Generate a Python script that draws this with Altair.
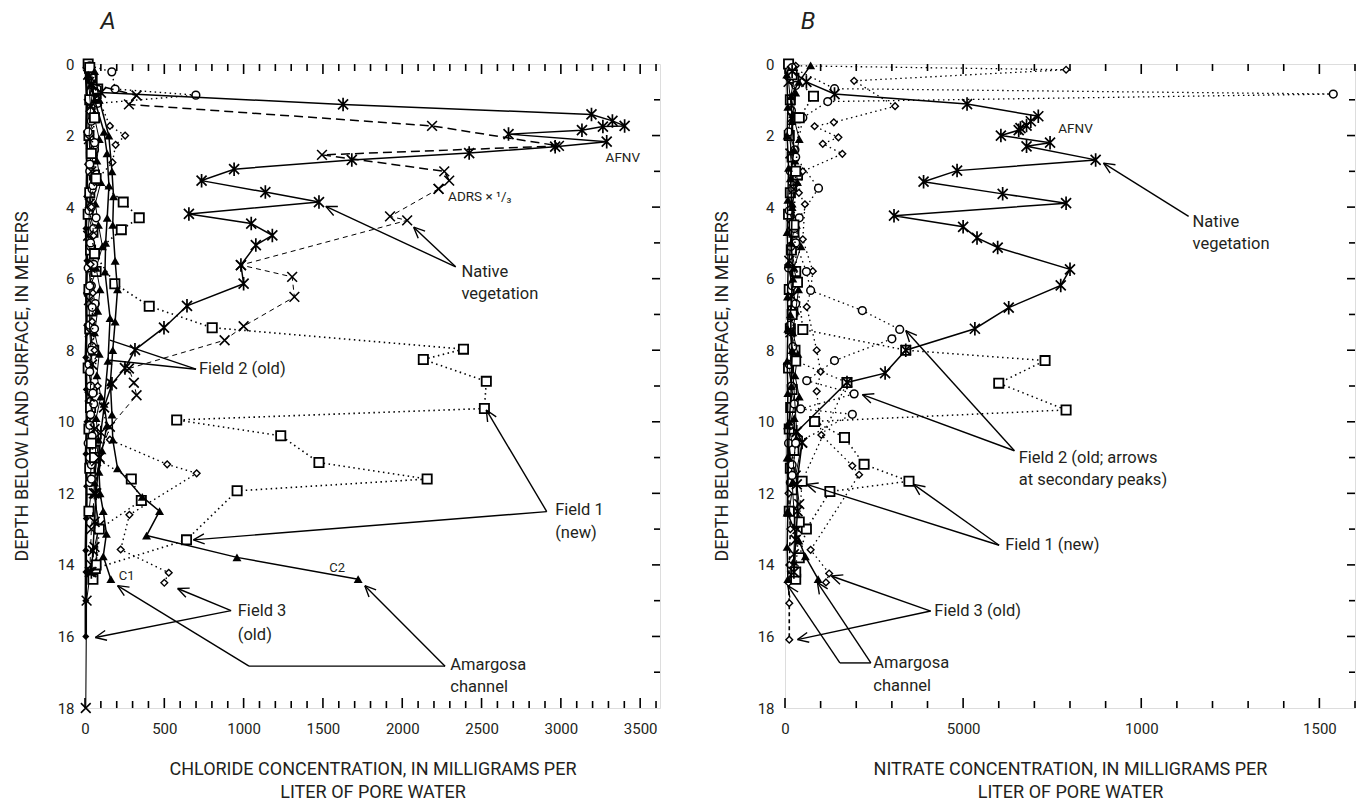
import math
import altair as alt
import pandas as pd

FONT = "Roboto, Liberation Sans, sans-serif"
TXT = "#231f20"

# ---------------- Panel A : chloride ----------------
A_afnv_v = [40, 100, 1627, 3193, 3325, 3402, 3265, 3133, 2670, 3289, 2964, 2422, 1682, 940, 735, 1137, 1475, 655, 1048, 1181, 1077, 983, 1000, 643, 498, 315, 252, 170, 120, 100, 90, 70, 60, 50, 40]
A_afnv_d = [0.6, 0.8, 1.13, 1.41, 1.59, 1.73, 1.75, 1.85, 1.96, 2.17, 2.31, 2.49, 2.68, 2.94, 3.26, 3.58, 3.86, 4.19, 4.46, 4.79, 5.06, 5.62, 6.14, 6.76, 7.37, 7.99, 8.5, 8.94, 9.6, 10.3, 11.0, 12.0, 12.8, 13.6, 14.2]
A_adrs1_v = [40, 325, 277, 2188, 2988, 1494, 2265, 2296, 2229]
A_adrs1_d = [0.55, 0.88, 1.13, 1.73, 2.29, 2.54, 3.0, 3.26, 3.49]
A_adrs2_v = [2229, 1923, 2031, 983, 1306, 1320, 1000, 880, 277, 308, 325, 157, 90, 60, 40, 30]
A_adrs2_d = [3.49, 4.26, 4.37, 5.62, 5.95, 6.51, 7.33, 7.72, 8.51, 8.91, 9.26, 10.14, 11.0, 12.0, 13.0, 14.2]
A_f1_v = [30, 80, 60, 40, 70, 241, 342, 229, 60, 188, 405, 802, 2386, 2133, 2530, 2518, 578, 1234, 1475, 2157, 959, 640, 65, 50]
A_f1_d = [0.1, 0.7, 1.5, 2.5, 3.2, 3.86, 4.3, 4.63, 5.3, 6.14, 6.77, 7.37, 7.97, 8.26, 8.87, 9.63, 9.95, 10.39, 11.14, 11.6, 11.93, 13.3, 14.1, 14.4]
A_f1b_v = [40, 60, 292, 355, 90, 70]
A_f1b_d = [10.6, 11.0, 11.6, 12.2, 13.0, 14.0]
A_f2c_v = [30, 169, 190, 699, 80, 40, 60, 30, 50, 40, 70, 35, 55, 30, 45, 60, 40, 30, 50, 35, 45, 30, 40]
A_f2c_d = [0.05, 0.22, 0.7, 0.87, 1.1, 1.6, 2.2, 2.8, 3.4, 4.0, 4.3, 5.0, 5.6, 6.2, 6.8, 7.4, 8.0, 8.6, 9.2, 9.8, 10.4, 11.0, 11.6]
A_f3d_v = [40, 157, 253, 193, 173, 60, 40, 55, 35, 50, 45, 60, 80, 157, 518, 704, 280, 225, 528, 500]
A_f3d_d = [0.5, 1.73, 2.0, 2.26, 2.75, 3.3, 4.0, 4.8, 5.6, 6.4, 7.2, 8.0, 9.0, 10.5, 11.19, 11.44, 12.6, 13.57, 14.22, 14.5]
A_f3s_v = [5, 12, 8, 15, 10, 6, 12, 8, 10, 5, 8, 12, 6, 10, 8, 5, 6, 5, 5]
A_f3s_d = [0.1, 1.0, 1.9, 2.8, 3.7, 4.6, 5.5, 6.4, 7.3, 8.2, 9.1, 10.0, 10.9, 11.8, 12.7, 13.6, 14.2, 15.0, 16.0]
A_c1_v = [20, 60, 120, 139, 151, 140, 130, 126, 158, 145, 120, 139, 107, 88, 95, 115, 135, 115, 163]
A_c1_d = [0.3, 1.0, 1.9, 2.5, 3.4, 4.3, 5.0, 5.8, 7.1, 8.3, 9.5, 10.1, 10.8, 11.4, 12.0, 12.5, 13.13, 13.76, 14.4]
A_c2_v = [60, 90, 150, 170, 180, 175, 190, 205, 190, 175, 160, 170, 175, 205, 361, 470, 388, 958, 1722]
A_c2_d = [0.2, 1.0, 2.0, 3.0, 3.7, 4.5, 5.5, 6.3, 7.2, 8.0, 8.9, 9.8, 10.5, 11.3, 12.1, 12.5, 13.18, 13.79, 14.4]
A_tri0_v = [30, 70, 55, 90, 75, 100, 65, 85, 110, 70, 95, 80, 60, 90, 75, 100, 70, 85, 60, 80, 70]
A_tri0_d = [0.1, 0.8, 1.4, 2.1, 2.7, 3.3, 3.9, 4.5, 5.1, 5.7, 6.3, 6.9, 7.5, 8.1, 8.7, 9.3, 9.9, 10.5, 11.7, 12.9, 13.9]
A_x0_v = [20, 35, 25, 40, 30, 20, 35, 25, 30, 45, 30, 60, 70, 55, 90, 60, 40, 10, 5]
A_x0_d = [0.3, 1.2, 2.1, 3.0, 3.9, 4.8, 5.7, 6.6, 7.5, 8.4, 9.3, 10.2, 11.1, 12.0, 12.9, 13.5, 14.0, 15.0, 18.0]
A_sq0_v = [20, 45, 30, 55, 25, 40, 60, 30, 20, 50, 35, 70, 25, 40, 30, 55, 20, 45, 35, 25, 60, 30, 40, 25]
A_sq0_d = [0.0, 0.4, 1.0, 1.5, 2.0, 2.6, 3.1, 3.6, 4.2, 4.7, 5.2, 5.8, 6.3, 6.9, 7.4, 8.0, 8.5, 9.1, 9.6, 10.2, 10.8, 11.3, 11.9, 12.5]
A_ci0_v = [25, 50, 35, 20, 60, 30, 45, 25, 55, 35, 20, 40, 65, 30, 45, 25, 35, 55, 30, 20, 40, 30]
A_ci0_d = [0.2, 0.6, 1.3, 1.9, 2.4, 3.0, 3.5, 4.1, 4.6, 5.1, 5.7, 6.2, 6.7, 7.3, 7.9, 8.4, 9.0, 9.5, 10.1, 10.6, 11.2, 11.7]

# ---------------- Panel B : nitrate ----------------
B_afnv_v = [20, 60, 139, 511, 711, 690, 678, 661, 656, 606, 744, 678, 872, 483, 389, 611, 789, 306, 500, 539, 597, 800, 774, 628, 533, 339, 281, 174, 33, 48, 33, 35, 30, 25]
B_afnv_d = [0.2, 0.5, 0.84, 1.12, 1.46, 1.6, 1.72, 1.79, 1.85, 2.0, 2.2, 2.3, 2.68, 2.98, 3.29, 3.63, 3.89, 4.24, 4.55, 4.86, 5.13, 5.74, 6.19, 6.81, 7.4, 8.0, 8.64, 8.9, 10.28, 10.58, 11.75, 12.5, 13.3, 14.2]
B_f2d_v = [30, 789, 194, 309, 137, 83, 150, 106, 161, 50, 39, 56, 50, 78, 72, 61, 89, 100, 89, 102, 189, 208, 72, 124, 115]
B_f2d_d = [0.05, 0.16, 0.47, 1.18, 1.63, 1.74, 2.05, 2.23, 2.51, 3.0, 3.6, 3.92, 4.9, 5.79, 6.33, 6.79, 8.0, 8.6, 9.15, 10.37, 11.23, 11.48, 13.58, 14.24, 14.49]
B_f3_v = [10, 15, 12, 10, 12, 12]
B_f3_d = [12.0, 13.0, 14.0, 14.5, 15.07, 16.09]
B_f2c_v = [20, 139, 1539, 120, 50, 30, 94, 40, 30, 60, 72, 217, 322, 300, 139, 61, 194, 44, 189, 30, 20]
B_f2c_d = [0.1, 0.69, 0.84, 1.05, 1.5, 2.6, 3.47, 4.3, 5.0, 5.8, 6.33, 6.89, 7.42, 7.68, 8.29, 8.85, 9.22, 9.64, 9.79, 10.6, 11.5]
B_f1_v = [20, 80, 40, 30, 25, 35, 50, 339, 730, 600, 789, 83, 167, 222, 348, 126, 60, 40, 30]
B_f1_d = [0.3, 0.9, 1.5, 3.0, 4.5, 6.1, 7.42, 8.0, 8.29, 8.92, 9.67, 9.99, 10.44, 11.19, 11.66, 11.95, 13.0, 13.8, 14.4]
B_f1b_v = [20, 30, 174, 48, 40, 30]
B_f1b_d = [7.0, 8.3, 8.9, 11.66, 12.8, 14.2]
B_c1_v = [5, 8, 6, 10, 8, 6, 9, 7, 8, 6, 8, 7, 6, 8, 6, 8]
B_c1_d = [0.3, 1.2, 2.0, 2.9, 3.8, 4.7, 5.6, 6.5, 7.4, 8.3, 9.2, 10.1, 11.0, 12.5, 13.5, 14.4]
B_c2_v = [72, 39, 17, 20, 25, 15, 20, 18, 22, 15, 20, 18, 12, 10, 6, 39, 57, 93]
B_c2_d = [0.04, 0.5, 0.9, 1.6, 2.4, 3.2, 4.0, 5.0, 6.0, 7.0, 8.0, 9.0, 10.0, 11.0, 12.54, 13.32, 13.76, 14.4]
B_tri0_v = [15, 30, 22, 40, 28, 35, 20, 32, 45, 25, 38, 30, 22, 36, 28, 40, 26, 30, 20, 28, 24]
B_tri0_d = [0.2, 0.8, 1.4, 2.1, 2.7, 3.3, 3.9, 4.5, 5.1, 5.7, 6.3, 6.9, 7.5, 8.1, 8.7, 9.3, 9.9, 10.5, 11.7, 12.9, 13.9]
B_x0_v = [10, 20, 15, 25, 18, 12, 20, 15, 33, 48, 30, 40, 35, 25, 20]
B_x0_d = [0.5, 1.5, 2.5, 3.5, 4.5, 5.5, 6.5, 7.5, 10.28, 10.58, 11.5, 12.3, 13.0, 13.7, 14.3]
B_sq0_v = [10, 25, 15, 30, 12, 20, 35, 15, 10, 25, 18, 30, 12, 22, 15, 28, 10, 20, 16, 12, 25, 15, 20, 12]
B_sq0_d = [0.0, 0.4, 1.0, 1.5, 2.0, 2.6, 3.1, 3.6, 4.2, 4.7, 5.2, 5.8, 6.3, 6.9, 7.4, 8.0, 8.5, 9.1, 9.6, 10.2, 10.8, 11.3, 11.9, 12.5]
B_ci0_v = [12, 30, 18, 10, 28, 15, 22, 12, 26, 16, 10, 20, 30, 14, 22, 12, 18, 26, 15, 10, 20, 15]
B_ci0_d = [0.2, 0.6, 1.3, 1.9, 2.4, 3.0, 3.5, 4.1, 4.6, 5.1, 5.7, 6.2, 6.7, 7.3, 7.9, 8.4, 9.0, 9.5, 10.1, 10.6, 11.2, 11.7]

# annotations: (text, value, depth, size)
A_texts = [("AFNV", 3282, 2.62, 13.5), ("ADRS × ¹/₃", 2289, 3.72, 13.5),
           ("Native", 2373, 5.81, 16.5), ("vegetation", 2373, 6.42, 16.5),
           ("Field 2 (old)", 718, 8.53, 16.5),
           ("Field 1", 2964, 12.47, 16.5), ("(new)", 2964, 13.1, 16.5),
           ("Field 3", 963, 15.3, 16.5), ("(old)", 963, 15.95, 16.5),
           ("Amargosa", 2303, 16.8, 16.5), ("channel", 2303, 17.42, 16.5),
           ("C1", 213, 14.3, 13), ("C2", 1540, 14.1, 13)]
# arrows: (tail v, tail d, tip v, tip d, head)
A_arrows = [(2337, 5.67, 1518, 3.98, 1), (2337, 5.67, 2072, 4.56, 1),
            (700, 8.53, 157, 7.72, 0), (700, 8.53, 157, 8.28, 0),
            (2911, 12.51, 2530, 9.67, 1), (2911, 12.51, 683, 13.3, 1),
            (921, 15.28, 584, 14.66, 1), (921, 15.28, 65, 16.03, 1),
            (2270, 16.83, 1034, 16.83, 0), (1034, 16.83, 205, 14.58, 1),
            (2270, 16.83, 1764, 14.58, 1)]
B_texts = [("AFNV", 767, 1.83, 13.5),
           ("Native", 1144, 4.42, 16.5), ("vegetation", 1144, 5.02, 16.5),
           ("Field 2 (old; arrows", 656, 11.0, 16.5), ("at secondary peaks)", 656, 11.62, 16.5),
           ("Field 1 (new)", 618, 13.45, 16.5),
           ("Field 3 (old)", 419, 15.29, 16.5),
           ("Amargosa", 248, 16.74, 16.5), ("channel", 248, 17.38, 16.5)]
B_arrows = [(1133, 4.26, 894, 2.77, 1),
            (644, 10.81, 339, 7.45, 1), (644, 10.81, 217, 9.24, 1),
            (601, 13.45, 361, 11.75, 1), (601, 13.45, 61, 11.75, 1),
            (409, 15.29, 130, 14.31, 1), (409, 15.29, 35, 16.09, 1),
            (241, 16.74, 154, 16.74, 0), (154, 16.74, 8, 14.58, 1),
            (241, 16.74, 91, 14.49, 1)]

AST = "M-1,-1L1,1M-1,1L1,-1M0,-1.35L0,1.35"
XS = "M-1,-1L1,1M-1,1L1,-1"
HEAD = "M0,0L-2.2,-1M0,0L-2.2,1"

DASH = {"solid": None, "dash": [9, 5], "tdash": [5, 4], "dot": [1.5, 3.5], "vdash": [4, 3]}

A_series = [
    (A_f3s_v, A_f3s_d, "solid", 2.5, "dif"),
    (A_sq0_v, A_sq0_d, "solid", 1.0, "sq"),
    (A_ci0_v, A_ci0_d, "solid", 1.0, "ci"),
    (A_tri0_v, A_tri0_d, "solid", 1.0, "tri"),
    (A_x0_v, A_x0_d, "solid", 1.0, "x"),
    (A_f2c_v, A_f2c_d, "dot", 1.4, "ci"),
    (A_f3d_v, A_f3d_d, "dot", 1.4, "di"),
    (A_f1_v, A_f1_d, "dot", 1.6, "sq"),
    (A_f1b_v, A_f1b_d, "dot", 1.4, "sq"),
    (A_c1_v, A_c1_d, "solid", 1.5, "tri"),
    (A_c2_v, A_c2_d, "solid", 1.5, "tri"),
    (A_adrs2_v, A_adrs2_d, "tdash", 1.0, "x"),
    (A_adrs1_v, A_adrs1_d, "dash", 1.5, "x"),
    (A_afnv_v, A_afnv_d, "solid", 1.5, "ast"),
]
B_series = [
    (B_sq0_v, B_sq0_d, "solid", 1.0, "sq"),
    (B_ci0_v, B_ci0_d, "solid", 1.0, "ci"),
    (B_tri0_v, B_tri0_d, "solid", 1.0, "tri"),
    (B_x0_v, B_x0_d, "solid", 1.0, "x"),
    (B_f3_v, B_f3_d, "vdash", 1.6, "di"),
    (B_f2d_v, B_f2d_d, "dot", 1.3, "di"),
    (B_f2c_v, B_f2c_d, "dot", 1.3, "ci"),
    (B_f1_v, B_f1_d, "dot", 1.5, "sq"),
    (B_f1b_v, B_f1b_d, "dot", 1.3, "sq"),
    (B_c1_v, B_c1_d, "solid", 1.5, "tri"),
    (B_c2_v, B_c2_d, "solid", 1.5, "tri"),
    (B_afnv_v, B_afnv_d, "solid", 1.5, "ast"),
]

H = 644


def marker(kind):
    if kind == "ast":
        return dict(shape=AST, filled=False, size=100, strokeWidth=1.7)
    if kind == "x":
        return dict(shape=XS, filled=False, size=95, strokeWidth=1.6)
    if kind == "sq":
        return dict(shape="square", filled=True, fill="white", stroke="black", size=85, strokeWidth=1.8)
    if kind == "ci":
        return dict(shape="circle", filled=True, fill="white", stroke="black", size=60, strokeWidth=1.5)
    if kind == "di":
        return dict(shape="diamond", filled=True, fill="white", stroke="black", size=45, strokeWidth=1.4)
    if kind == "dif":
        return dict(shape="diamond", filled=True, size=50)
    return dict(shape="triangle-up", filled=True, size=80)


def panel(series, texts, arrows, dom, W, xvals, xtitle, letter, label_expr=None):
    ax_kw = dict(values=xvals, format="d", ticks=False, domain=False, grid=False,
                 labelFont=FONT, labelFontSize=15, labelColor=TXT, labelPadding=13,
                 labelFlush=False, title=xtitle, titleFont=FONT, titleFontSize=18,
                 titleFontWeight="normal", titleColor=TXT, titlePadding=24, titleLineHeight=23)
    if label_expr:
        ax_kw["labelExpr"] = label_expr
    X = alt.X("v:Q", scale=alt.Scale(domain=[0, dom], nice=False, zero=False), axis=alt.Axis(**ax_kw))
    Y = alt.Y("d:Q", scale=alt.Scale(domain=[0, 18], nice=False, zero=False, reverse=True),
              axis=alt.Axis(values=list(range(0, 19, 2)), ticks=False, domain=False, grid=False,
                            labelFont=FONT, labelFontSize=15, labelColor=TXT, labelPadding=11,
                            title="DEPTH BELOW LAND SURFACE, IN METERS", titleFont=FONT,
                            titleFontSize=18, titleFontWeight="normal", titleColor=TXT,
                            titleX=-63, titleY=H / 2, titleAngle=270, titleAlign="center",
                            titleBaseline="middle"))
    layers = []
    # inward ticks
    minor = pd.DataFrame({"v": [t for t in range(0, int(dom) + 1, 100) if t % 500]})
    major = pd.DataFrame({"v": list(range(0, int(dom) + 1, 500))})
    for df, L in ((minor, 7), (major, 10)):
        layers.append(alt.Chart(df).mark_rule(color="black", strokeWidth=1.6).encode(x=X, y=alt.value(0), y2=alt.value(L)))
        layers.append(alt.Chart(df).mark_rule(color="black", strokeWidth=1.6).encode(x=X, y=alt.value(H), y2=alt.value(H - L)))
    rt_min = pd.DataFrame({"d": list(range(1, 18, 2))})
    rt_maj = pd.DataFrame({"d": list(range(2, 18, 2))})
    for df, L in ((rt_min, 6), (rt_maj, 8)):
        layers.append(alt.Chart(df).mark_rule(color="black", strokeWidth=1.6).encode(y=Y, x=alt.value(W), x2=alt.value(W - L)))
    # data series
    for vals, deps, style, sw, mk in series:
        df = pd.DataFrame({"v": vals, "d": deps, "i": list(range(len(vals)))})
        base = alt.Chart(df).encode(x=X, y=Y, order=alt.Order("i:Q"))
        lk = dict(color="black", strokeWidth=sw)
        if DASH[style]:
            lk["strokeDash"] = DASH[style]
        layers.append(base.mark_line(**lk))
        layers.append(base.mark_point(color="black", opacity=1, **marker(mk)))
    # arrows
    adf = pd.DataFrame({"v": [a[0] for a in arrows], "d": [a[1] for a in arrows],
                        "v2": [a[2] for a in arrows], "d2": [a[3] for a in arrows]})
    layers.append(alt.Chart(adf).mark_rule(color="black", strokeWidth=1.4).encode(
        x=X, y=Y, x2="v2:Q", y2="d2:Q"))
    heads = [a for a in arrows if a[4]]
    ang = []
    for a in heads:
        dx = (a[2] - a[0]) * W / dom
        dy = (a[3] - a[1]) * H / 18.0
        ang.append(math.degrees(math.atan2(dy, dx)) % 360)
    hdf = pd.DataFrame({"v": [a[2] for a in heads], "d": [a[3] for a in heads], "a": ang})
    layers.append(alt.Chart(hdf).mark_point(shape=HEAD, filled=False, size=100, strokeWidth=1.4,
                                            color="black", opacity=1).encode(
        x=X, y=Y, angle=alt.Angle("a:Q", scale=None)))
    # texts
    for sz in sorted(set(t[3] for t in texts)):
        tdf = pd.DataFrame({"t": [t[0] for t in texts if t[3] == sz],
                            "v": [t[1] for t in texts if t[3] == sz],
                            "d": [t[2] for t in texts if t[3] == sz]})
        layers.append(alt.Chart(tdf).mark_text(align="left", baseline="middle", font=FONT,
                                               fontSize=sz, color=TXT).encode(x=X, y=Y, text="t:N"))
    # panel letter
    layers.append(alt.Chart(pd.DataFrame({"t": [letter]})).mark_text(
        align="center", baseline="middle", font=FONT, fontSize=24, fontStyle="italic", color=TXT
    ).encode(text="t:N", x=alt.value(23), y=alt.value(-42)))
    return alt.layer(*layers).properties(width=W, height=H)


chartA = panel(A_series, A_texts, A_arrows, 3625, 575, list(range(0, 3501, 500)),
               ["CHLORIDE CONCENTRATION, IN MILLIGRAMS PER", "LITER OF PORE WATER"], "A")
chartB = panel(B_series, B_texts, B_arrows, 1600, 570, [0, 500, 1000, 1500],
               ["NITRATE CONCENTRATION, IN MILLIGRAMS PER", "LITER OF PORE WATER"], "B",
               label_expr="datum.value == 500 ? '5000' : datum.label")

chart = alt.hconcat(chartA, chartB, spacing=50).properties(
    padding={"left": 12, "top": 9, "right": 5, "bottom": 5}
).configure_view(stroke="black", strokeWidth=2).configure(background="white")

chart.save("out.html", embed_options={"renderer": "svg", "actions": False})
